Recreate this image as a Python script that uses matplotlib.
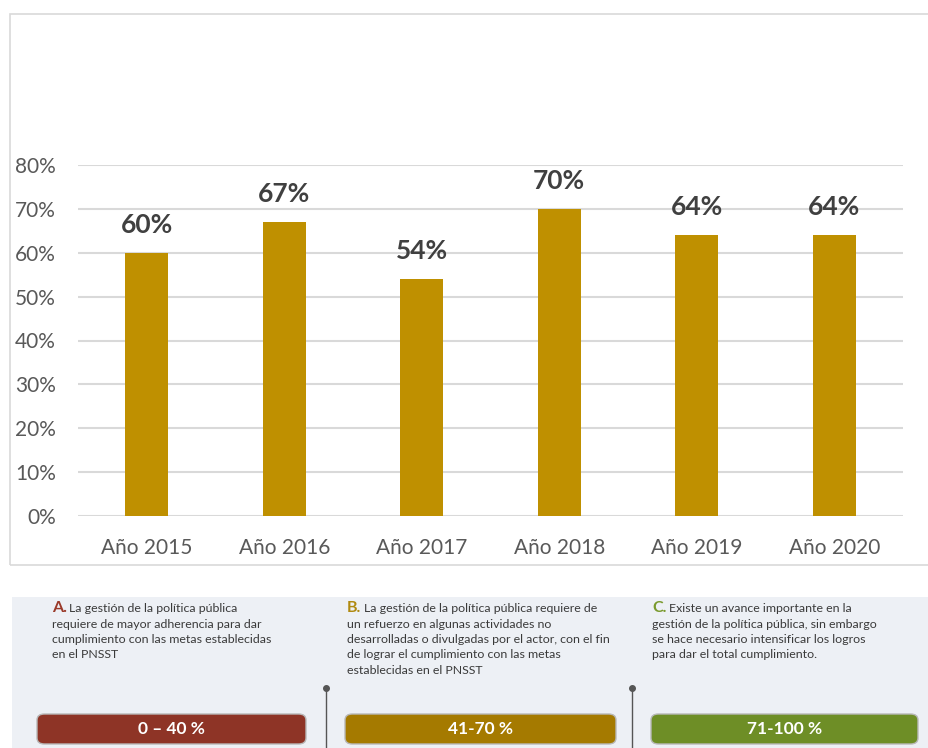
import matplotlib
matplotlib.use("Agg")
import matplotlib.pyplot as plt
from matplotlib.patches import Rectangle, FancyBboxPatch
from matplotlib.ticker import PercentFormatter

W, H = 929, 748

years = ["Año 2015", "Año 2016", "Año 2017", "Año 2018", "Año 2019", "Año 2020"]
values = [60, 67, 54, 70, 64, 64]
yticks = [0, 10, 20, 30, 40, 50, 60, 70, 80]

range_labels = ["0 – 40 %", "41-70 %", "71-100 %"]
range_letters = ["A.", "B.", "C."]
range_texts = [
    ["La gestión de la política pública",
     "requiere de mayor adherencia para dar",
     "cumplimiento con las metas establecidas",
     "en el PNSST"],
    ["La gestión de la política pública requiere de",
     "un refuerzo en algunas actividades no",
     "desarrolladas o divulgadas por el actor, con el fin",
     "de lograr el cumplimiento con las metas",
     "establecidas en el PNSST"],
    ["Existe un avance importante en la",
     "gestión de la política pública, sin embargo",
     "se hace necesario intensificar los logros",
     "para dar el total cumplimiento."],
]
range_colors = ["#8E3426", "#A57A00", "#6E8E26"]
letter_colors = ["#9A3A2A", "#B08A10", "#7A9A2E"]

plt.rcParams["font.family"] = ["Lato", "DejaVu Sans"]


def fx(x):
    return x / W


def fy(y):
    return 1 - y / H


fig = plt.figure(figsize=(W / 100, H / 100), dpi=100)

# chart frame
fig.patches.append(Rectangle((fx(10), fy(565)), fx(935) - fx(10), fy(14) - fy(565),
                             transform=fig.transFigure, fill=False,
                             edgecolor="#D9D9D9", linewidth=1.2))

ax = fig.add_axes([fx(78), fy(516), fx(903) - fx(78), fy(165) - fy(516)])
x = range(len(years))
bars = ax.bar(x, values, width=0.31, color="#BF9000", zorder=3)
for b, v in zip(bars, values):
    ax.text(b.get_x() + b.get_width() / 2, v + 3.6, "{}%".format(v),
            ha="center", va="bottom", fontsize=19, fontweight="bold",
            color="#404040", clip_on=False)

ax.set_xlim(-0.5, len(years) - 0.5)
ax.set_ylim(0, 80)
ax.set_yticks(yticks)
ax.yaxis.set_major_formatter(PercentFormatter(decimals=0))
ax.set_xticks(list(x))
ax.set_xticklabels(years)
ax.tick_params(length=0, labelsize=15, colors="#595959")
ax.tick_params(axis="x", pad=16)
ax.tick_params(axis="y", pad=16)
ax.grid(True, axis="y", color="#D9D9D9", linewidth=1.5, zorder=0)
for s in ax.spines.values():
    s.set_visible(False)

# bottom legend panel
fig.patches.append(Rectangle((fx(12), 0), fx(929) - fx(12), fy(597),
                             transform=fig.transFigure, facecolor="#EDF0F5",
                             edgecolor="none"))

col_x = [52, 347, 652]
box_x = [(37, 306), (345, 616), (651, 918)]
for i in range(3):
    lines = range_texts[i]
    fig.text(fx(col_x[i]), fy(612), range_letters[i], fontsize=11.5,
             fontweight="bold", color=letter_colors[i], va="baseline")
    fig.text(fx(col_x[i] + 17), fy(612), lines[0], fontsize=8.9,
             color="#3A3A3A", va="baseline")
    for k, line in enumerate(lines[1:]):
        fig.text(fx(col_x[i]), fy(612 + 15.5 * (k + 1)), line, fontsize=8.9,
                 color="#3A3A3A", va="baseline")

    x0, x1 = box_x[i]
    fig.patches.append(FancyBboxPatch((fx(x0), fy(744)), fx(x1) - fx(x0), fy(714) - fy(744),
                                      boxstyle="round,pad=0,rounding_size=0.008",
                                      transform=fig.transFigure,
                                      facecolor=range_colors[i], edgecolor="#B8B8B8",
                                      linewidth=1.0))
    fig.text(fx((x0 + x1) / 2), fy(729), range_labels[i], ha="center", va="center",
             fontsize=12.5, fontweight="bold", color="white")

for sx in [326, 632]:
    fig.add_artist(plt.Line2D([fx(sx), fx(sx)], [fy(688), 0], transform=fig.transFigure,
                              color="#555555", linewidth=1.0))
    fig.add_artist(plt.Line2D([fx(sx)], [fy(688)], transform=fig.transFigure,
                              marker="o", markersize=4, color="#555555"))

plt.savefig("out.png", dpi=100)
